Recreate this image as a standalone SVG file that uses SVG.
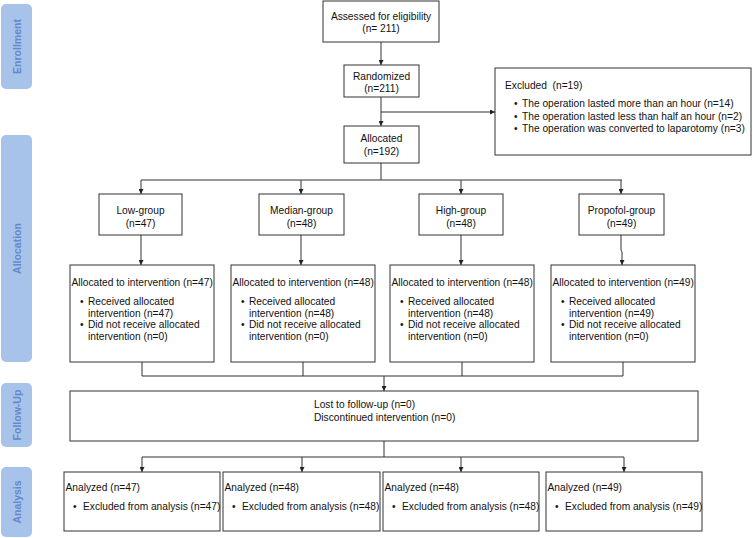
<svg xmlns="http://www.w3.org/2000/svg" width="753" height="538" viewBox="0 0 753 538">
<defs>
<marker id="ah" viewBox="0 0 8 8" refX="8" refY="4" markerWidth="5" markerHeight="5" orient="auto" markerUnits="userSpaceOnUse">
<path d="M0,0 L8,4 L0,8 Z" fill="#222"/>
</marker>
<style>
.box{fill:#fff;stroke:#333;stroke-width:1}
.bar{fill:#a8c3ea}
.bt{font-family:"Liberation Sans",Arial,sans-serif;font-size:10.5px;font-weight:bold;fill:#6388cc;text-anchor:middle}
.t{font-family:"Liberation Sans",Arial,sans-serif;font-size:10.2px;fill:#111}
.c{text-anchor:middle}
.ln{fill:none;stroke:#333;stroke-width:1}
.arr{fill:none;stroke:#333;stroke-width:1;marker-end:url(#ah)}
</style>
</defs>
<rect width="753" height="538" fill="#fff"/>

<g id="phase-enrollment"><rect class="bar" x="1" y="4" width="31" height="85" rx="5"/><text class="bt" transform="translate(20.5,46.5) rotate(-90)">Enrollment</text></g>
<g id="phase-allocation"><rect class="bar" x="1" y="135" width="31" height="227" rx="5"/><text class="bt" transform="translate(20.5,248.5) rotate(-90)">Allocation</text></g>
<g id="phase-followup"><rect class="bar" x="1" y="383" width="31" height="64" rx="5"/><text class="bt" transform="translate(20.5,415) rotate(-90)">Follow-Up</text></g>
<g id="phase-analysis"><rect class="bar" x="1" y="467" width="31" height="70" rx="5"/><text class="bt" transform="translate(20.5,502) rotate(-90)">Analysis</text></g>

<g id="connectors">
<line class="arr" x1="381" y1="42" x2="381" y2="65"/>
<line class="arr" x1="381" y1="97" x2="381" y2="126"/>
<line class="arr" x1="381" y1="112" x2="495" y2="112"/>
<polyline class="ln" points="381,163 381,180"/>
<line class="ln" x1="141" y1="180" x2="622" y2="180"/>
<line class="arr" x1="141" y1="180" x2="141" y2="194"/>
<line class="arr" x1="301" y1="180" x2="301" y2="194"/>
<line class="arr" x1="461" y1="180" x2="461" y2="194"/>
<line class="arr" x1="621" y1="180" x2="621" y2="194"/>
<line class="arr" x1="141" y1="235" x2="141" y2="265"/>
<line class="arr" x1="301" y1="235" x2="301" y2="265"/>
<line class="arr" x1="461" y1="235" x2="461" y2="265"/>
<polyline class="arr" points="621,235 621,250 622,252 622,265"/>
<polyline class="ln" points="142,362 142,376 623,376 623,362"/>
<line class="ln" x1="303" y1="362" x2="303" y2="376"/>
<line class="ln" x1="462" y1="362" x2="462" y2="376"/>
<line class="arr" x1="384" y1="376" x2="384" y2="391"/>
<line class="ln" x1="384" y1="441" x2="384" y2="457"/>
<line class="ln" x1="142" y1="457" x2="624" y2="457"/>
<line class="arr" x1="142" y1="457" x2="142" y2="472"/>
<line class="arr" x1="302" y1="457" x2="302" y2="472"/>
<line class="arr" x1="461" y1="457" x2="461" y2="472"/>
<line class="arr" x1="624" y1="457" x2="624" y2="472"/>
</g>

<g id="assessed"><rect class="box" x="323" y="1" width="116" height="41"/><text class="t c" x="381" y="20">Assessed for eligibility</text><text class="t c" x="381" y="32">(n= 211)</text></g>
<g id="randomized"><rect class="box" x="344" y="65" width="75" height="32"/><text class="t c" x="381.5" y="80">Randomized</text><text class="t c" x="381.5" y="92">(n=211)</text></g>
<g id="excluded"><rect class="box" x="495" y="68" width="256" height="87"/>
<text class="t" x="505" y="89" xml:space="preserve">Excluded  (n=19)</text>
<text class="t" x="514" y="107">•</text><text class="t" x="522" y="107">The operation lasted more than an hour (n=14)</text>
<text class="t" x="514" y="119.5">•</text><text class="t" x="522" y="119.5">The operation lasted less than half an hour (n=2)</text>
<text class="t" x="514" y="132">•</text><text class="t" x="522" y="132">The operation was converted to laparotomy (n=3)</text>
</g>
<g id="allocated"><rect class="box" x="344" y="126" width="75" height="37"/><text class="t c" x="381.5" y="142">Allocated</text><text class="t c" x="381.5" y="155">(n=192)</text></g>

<g id="low-group"><rect class="box" x="99" y="194" width="83" height="41"/><text class="t c" x="140.5" y="214">Low-group</text><text class="t c" x="140.5" y="226.5">(n=47)</text></g>
<g id="median-group"><rect class="box" x="259" y="194" width="85" height="41"/><text class="t c" x="301.5" y="214">Median-group</text><text class="t c" x="301.5" y="226.5">(n=48)</text></g>
<g id="high-group"><rect class="box" x="419" y="194" width="84" height="41"/><text class="t c" x="461" y="214">High-group</text><text class="t c" x="461" y="226.5">(n=48)</text></g>
<g id="propofol-group"><rect class="box" x="579" y="194" width="85" height="41"/><text class="t c" x="621.5" y="214">Propofol-group</text><text class="t c" x="621.5" y="226.5">(n=49)</text></g>

<g id="alloc-low"><rect class="box" x="70" y="265" width="144" height="97"/>
<text class="t" x="71.5" y="286">Allocated to intervention (n=47)</text>
<text class="t" x="80" y="305">•</text><text class="t" x="88" y="305">Received allocated</text><text class="t" x="88" y="316.5">intervention (n=47)</text>
<text class="t" x="80" y="328">•</text><text class="t" x="88" y="328">Did not receive allocated</text><text class="t" x="88" y="339.5">intervention (n=0)</text>
</g>
<g id="alloc-median"><rect class="box" x="231" y="265" width="144" height="97"/>
<text class="t" x="232.5" y="286">Allocated to intervention (n=48)</text>
<text class="t" x="241" y="305">•</text><text class="t" x="249" y="305">Received allocated</text><text class="t" x="249" y="316.5">intervention (n=48)</text>
<text class="t" x="241" y="328">•</text><text class="t" x="249" y="328">Did not receive allocated</text><text class="t" x="249" y="339.5">intervention (n=0)</text>
</g>
<g id="alloc-high"><rect class="box" x="390" y="265" width="144" height="97"/>
<text class="t" x="391.5" y="286">Allocated to intervention (n=48)</text>
<text class="t" x="400" y="305">•</text><text class="t" x="408" y="305">Received allocated</text><text class="t" x="408" y="316.5">intervention (n=48)</text>
<text class="t" x="400" y="328">•</text><text class="t" x="408" y="328">Did not receive allocated</text><text class="t" x="408" y="339.5">intervention (n=0)</text>
</g>
<g id="alloc-propofol"><rect class="box" x="551" y="265" width="144" height="97"/>
<text class="t" x="552.5" y="286">Allocated to intervention (n=49)</text>
<text class="t" x="561" y="305">•</text><text class="t" x="569" y="305">Received allocated</text><text class="t" x="569" y="316.5">intervention (n=49)</text>
<text class="t" x="561" y="328">•</text><text class="t" x="569" y="328">Did not receive allocated</text><text class="t" x="569" y="339.5">intervention (n=0)</text>
</g>

<g id="followup"><rect class="box" x="70" y="391" width="628" height="50"/>
<text class="t" x="314" y="408">Lost to follow-up (n=0)</text>
<text class="t" x="314" y="421">Discontinued intervention (n=0)</text>
</g>

<g id="analysis-low"><rect class="box" x="64" y="472" width="156" height="59"/><text class="t" x="65.5" y="491">Analyzed (n=47)</text><text class="t" x="73" y="510">•</text><text class="t" x="83" y="510">Excluded from analysis (n=47)</text></g>
<g id="analysis-median"><rect class="box" x="223" y="472" width="157" height="59"/><text class="t" x="224.5" y="491">Analyzed (n=48)</text><text class="t" x="232" y="510">•</text><text class="t" x="242" y="510">Excluded from analysis (n=48)</text></g>
<g id="analysis-high"><rect class="box" x="383" y="472" width="156" height="59"/><text class="t" x="384.5" y="491">Analyzed (n=48)</text><text class="t" x="392" y="510">•</text><text class="t" x="402" y="510">Excluded from analysis (n=48)</text></g>
<g id="analysis-propofol"><rect class="box" x="546" y="472" width="156" height="59"/><text class="t" x="547.5" y="491">Analyzed (n=49)</text><text class="t" x="555" y="510">•</text><text class="t" x="565" y="510">Excluded from analysis (n=49)</text></g>
</svg>
